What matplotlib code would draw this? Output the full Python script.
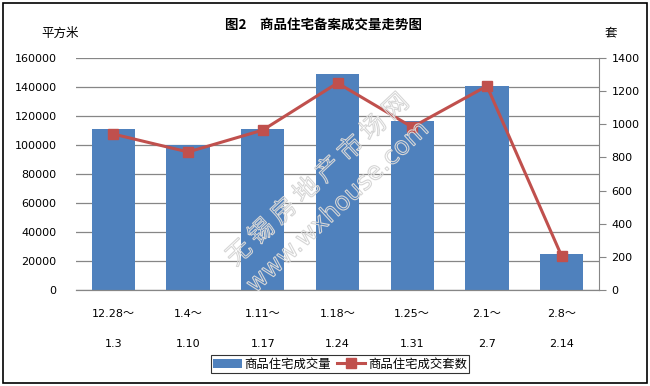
import matplotlib.pyplot as plt
import matplotlib.patheffects as pe
from matplotlib.patches import Rectangle

plt.rcParams['font.family'] = ['DejaVu Sans', 'Noto Sans CJK SC']

weeks_start = ['12.28～', '1.4～', '1.11～', '1.18～', '1.25～', '2.1～', '2.8～']
weeks_end = ['1.3', '1.10', '1.17', '1.24', '1.31', '2.7', '2.14']
area = [111000, 100000, 111000, 149000, 116500, 140700, 24800]   # 平方米
units = [941, 833, 965, 1249, 983, 1231, 205]                       # 套

bar_color = '#4F81BD'
line_color = '#C0504D'
grid_color = '#868686'

fig = plt.figure(figsize=(6.5, 3.86), dpi=100)
ax = fig.add_axes([76/650, 1 - 290/386, (599 - 76)/650, (290 - 58)/386])
ax2 = ax.twinx()

x = list(range(len(area)))
ax.bar(x, area, width=0.58, color=bar_color, zorder=2, label='商品住宅成交量')
ax2.plot(x, units, color=line_color, lw=2.2, marker='s', ms=7,
         mfc=line_color, mec=line_color, label='商品住宅成交套数')

ax.set_xlim(-0.5, len(area) - 0.5)
ax.set_ylim(0, 160000)
ax.set_yticks(range(0, 160001, 20000))
ax2.set_ylim(0, 1400)
ax2.set_yticks(range(0, 1401, 200))

ax.yaxis.grid(True, color=grid_color, lw=0.9, zorder=0)
ax.set_axisbelow(True)

for a in (ax, ax2):
    for s in ('top', 'left'):
        a.spines[s].set_visible(False)
    a.spines['bottom'].set_color(grid_color)
    a.spines['right'].set_color(grid_color)
ax2.spines['right'].set_visible(True)
ax.spines['right'].set_visible(False)

ax.tick_params(axis='y', length=0, labelsize=8, pad=14)
ax2.tick_params(axis='y', length=5, color=grid_color, labelsize=8, pad=4)
ax.tick_params(axis='x', length=0, labelsize=8, pad=14)
ax.set_xticks(x)
ax.set_xticklabels([s + '\n\n\n' + e for s, e in zip(weeks_start, weeks_end)],
                   linespacing=1.0)

fig.text(0.497, 1 - 25/386, '图2　商品住宅备案成交量走势图', ha='center', va='center',
         fontsize=9.7, fontweight='bold', family=['Noto Sans CJK SC'])
fig.text(60/650, 1 - 33/386, '平方米', ha='center', va='center', fontsize=9,
         family=['Noto Sans CJK SC'])
fig.text(611/650, 1 - 33/386, '套', ha='center', va='center', fontsize=9,
         family=['Noto Sans CJK SC'])

# watermark: hollow outlined lettering
wm_fx = [pe.PathPatchEffect(edgecolor='#d6d6d6', facecolor='none', linewidth=0.8)]
fig.text(318/650, 1 - 180/386, '无 锡 房 地 产 市 场 网', ha='center', va='center',
         fontsize=18, rotation=43, path_effects=wm_fx,
         family=['Noto Sans CJK SC'], zorder=10)
fig.text(338/650, 1 - 207/386, 'www.wxhouse.com', ha='center', va='center',
         fontsize=18, rotation=43, path_effects=wm_fx,
         family=['DejaVu Sans'], zorder=10)

h1, l1 = ax.get_legend_handles_labels()
h2, l2 = ax2.get_legend_handles_labels()
leg = fig.legend(h1 + h2, l1 + l2, loc='center', bbox_to_anchor=(340/650, 1 - 364/386),
                 ncol=2, frameon=True, fancybox=False,
                 prop={'family': ['Noto Sans CJK SC'], 'size': 8.9},
                 handlelength=2.3, handletextpad=0.2, columnspacing=0.5,
                 borderpad=0.2, borderaxespad=0)
leg.get_frame().set_edgecolor('black')
leg.get_frame().set_linewidth(0.8)

fig.patches.append(Rectangle((3/650, 3/386), 644/650, 380/386, transform=fig.transFigure,
                             fill=False, edgecolor='black', lw=1.2))

fig.savefig('out.png', dpi=100)
